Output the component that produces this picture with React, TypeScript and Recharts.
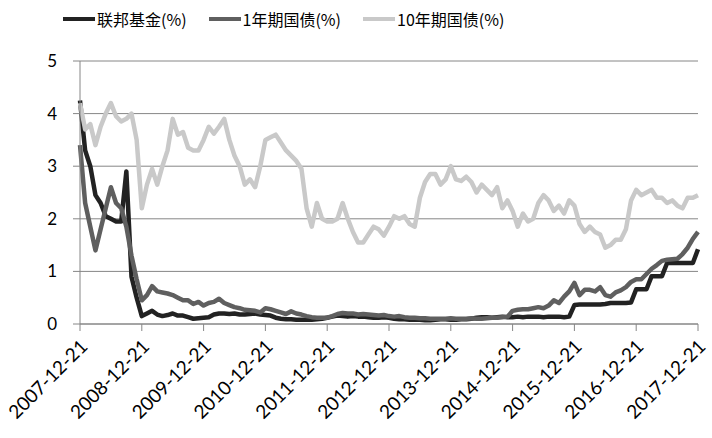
import { LineChart, Line, XAxis, YAxis, CartesianGrid, Legend } from 'recharts'

// x axis: one point per month, 2007-12-21 .. 2017-12-21
const tickLabels = [
  '2007-12-21', '2008-12-21', '2009-12-21', '2010-12-21', '2011-12-21', '2012-12-21',
  '2013-12-21', '2014-12-21', '2015-12-21', '2016-12-21', '2017-12-21',
]

const fedFunds = [
  4.25, 3.3, 3.0, 2.45, 2.3, 2.05, 2.0, 1.95, 1.95, 2.9,
  0.9, 0.5, 0.15, 0.2, 0.25, 0.18, 0.15, 0.17, 0.2, 0.16,
  0.16, 0.13, 0.1, 0.11, 0.12, 0.13, 0.18, 0.2, 0.2, 0.19,
  0.2, 0.18, 0.18, 0.19, 0.2, 0.18, 0.17, 0.16, 0.12, 0.1,
  0.09, 0.09, 0.08, 0.08, 0.08, 0.08, 0.09, 0.1, 0.12, 0.14,
  0.16, 0.15, 0.14, 0.15, 0.14, 0.14, 0.13, 0.12, 0.12, 0.13,
  0.12, 0.1, 0.09, 0.09, 0.08, 0.08, 0.08, 0.07, 0.07, 0.08,
  0.09, 0.09, 0.08, 0.08, 0.09, 0.09, 0.1, 0.12, 0.13, 0.13,
  0.12, 0.13, 0.14, 0.13, 0.13, 0.14, 0.13, 0.14, 0.14, 0.14,
  0.13, 0.14, 0.14, 0.14, 0.13, 0.14, 0.36, 0.37, 0.37, 0.37,
  0.37, 0.37, 0.38, 0.4, 0.4, 0.4, 0.4, 0.41, 0.66, 0.66,
  0.66, 0.91, 0.91, 0.91, 1.16, 1.16, 1.16, 1.16, 1.16, 1.16,
  1.42,
]

const oneYear = [
  3.4, 2.3, 1.85, 1.4, 1.8, 2.2, 2.6, 2.3, 2.2, 1.85,
  1.3, 0.85, 0.45, 0.55, 0.72, 0.62, 0.6, 0.58, 0.55, 0.5,
  0.45, 0.45, 0.38, 0.42, 0.35, 0.4, 0.42, 0.48, 0.4, 0.36,
  0.32, 0.3, 0.27, 0.26, 0.25, 0.22, 0.3, 0.28, 0.25, 0.22,
  0.19, 0.24, 0.2, 0.18, 0.15, 0.13, 0.12, 0.12, 0.12, 0.15,
  0.19, 0.21, 0.2, 0.2, 0.18, 0.19, 0.18, 0.17, 0.16, 0.17,
  0.15, 0.14, 0.15, 0.13, 0.12, 0.12, 0.11, 0.11, 0.1, 0.1,
  0.1, 0.1, 0.11, 0.1, 0.1, 0.1, 0.11, 0.1, 0.1, 0.11,
  0.12, 0.12, 0.13, 0.14, 0.25, 0.27, 0.28, 0.28, 0.3, 0.32,
  0.3, 0.35, 0.45, 0.4, 0.52, 0.62, 0.78, 0.55, 0.65, 0.65,
  0.62, 0.7, 0.55, 0.52, 0.6, 0.64, 0.7, 0.8, 0.85, 0.85,
  0.95, 1.05, 1.12, 1.2, 1.22, 1.23, 1.24, 1.33, 1.45, 1.62,
  1.75,
]

const tenYear = [
  4.2, 3.7, 3.8, 3.4, 3.75, 4.0, 4.2, 3.95, 3.85, 3.9,
  4.0, 3.5, 2.2, 2.65, 2.95, 2.65, 3.0, 3.3, 3.9, 3.6,
  3.65, 3.35, 3.3, 3.3, 3.5, 3.75, 3.62, 3.75, 3.9, 3.5,
  3.2, 3.0, 2.65, 2.75, 2.6, 3.0, 3.5, 3.55, 3.6, 3.45,
  3.3, 3.2, 3.1, 2.95, 2.2, 1.85, 2.3, 2.0, 1.95, 1.95,
  2.0, 2.3, 2.0, 1.75, 1.55, 1.55, 1.7, 1.85, 1.8, 1.68,
  1.85, 2.05, 2.0, 2.05, 1.9, 1.85, 2.4, 2.7, 2.85, 2.85,
  2.65, 2.75, 3.0, 2.75, 2.72, 2.8, 2.7, 2.5, 2.65, 2.55,
  2.45, 2.6, 2.2, 2.35, 2.15, 1.85, 2.1, 1.95, 2.0, 2.3,
  2.45, 2.35, 2.15, 2.25, 2.1, 2.35, 2.25, 1.9, 1.75, 1.85,
  1.75, 1.7, 1.45, 1.5, 1.6, 1.6, 1.8, 2.35, 2.55, 2.45,
  2.5, 2.55, 2.4, 2.4, 2.3, 2.35, 2.25, 2.2, 2.4, 2.4,
  2.45,
]

const series = [
  { key: 'fed', name: '联邦基金(%)', color: '#222222' },
  { key: 'y1', name: '1年期国债(%)', color: '#5f5f5f' },
  { key: 'y10', name: '10年期国债(%)', color: '#c9c9c9' },
]

const data = fedFunds.map((v, i) => ({ m: i, fed: v, y1: oneYear[i], y10: tenYear[i] }))
const xTicks = tickLabels.map((_, i) => i * 12)

const AXIS = '#868686'

function DateTick({ x, y, payload }: any) {
  return (
    <g transform={`translate(${x + 4},${y + 10})`}>
      <text transform="rotate(-45)" textAnchor="end" dy="0.35em" fontSize={19} fill="#000">
        {tickLabels[Math.round(payload.value / 12)]}
      </text>
    </g>
  )
}

// legend kept in series order (recharts sorts by name otherwise)
function LegendRow() {
  return (
    <div style={{ display: 'flex', alignItems: 'center', fontFamily: '"Noto Sans CJK SC", sans-serif', fontSize: 16, color: '#000', whiteSpace: 'nowrap' }}>
      {series.map((s) => (
        <div key={s.key} style={{ display: 'flex', alignItems: 'center', marginRight: 22 }}>
          <span style={{ display: 'inline-block', width: 32, height: 4, background: s.color, marginRight: 2 }} />
          <span>{s.name}</span>
        </div>
      ))}
    </div>
  )
}

export default function App() {
  return (
    <div style={{ position: 'absolute', left: 0, top: 0, fontFamily: 'Lato, sans-serif' }}>
      <LineChart width={712} height={438} data={data} margin={{ top: 61, right: 14, left: 0, bottom: 0 }}>
        <CartesianGrid horizontal vertical={false} stroke={AXIS} />
        <XAxis
          dataKey="m"
          type="number"
          domain={[0, 120]}
          ticks={xTicks}
          interval={0}
          height={114}
          tickSize={7}
          stroke={AXIS}
          tick={<DateTick />}
        />
        <YAxis
          domain={[0, 5]}
          ticks={[0, 1, 2, 3, 4, 5]}
          interval={0}
          width={80}
          tickSize={7}
          tickMargin={16}
          stroke={AXIS}
          tick={{ fontSize: 17, fill: '#000' }}
        />
        <Legend
          verticalAlign="middle"
          layout="horizontal"
          content={<LegendRow />}
          wrapperStyle={{ position: 'absolute', top: 7, left: 63, width: 'auto' }}
        />
        {series.map((s) => (
          <Line
            key={s.key}
            type="linear"
            dataKey={s.key}
            name={s.name}
            stroke={s.color}
            strokeWidth={4.5}
            strokeLinejoin="round"
            dot={false}
            isAnimationActive={false}
          />
        ))}
      </LineChart>
    </div>
  )
}
